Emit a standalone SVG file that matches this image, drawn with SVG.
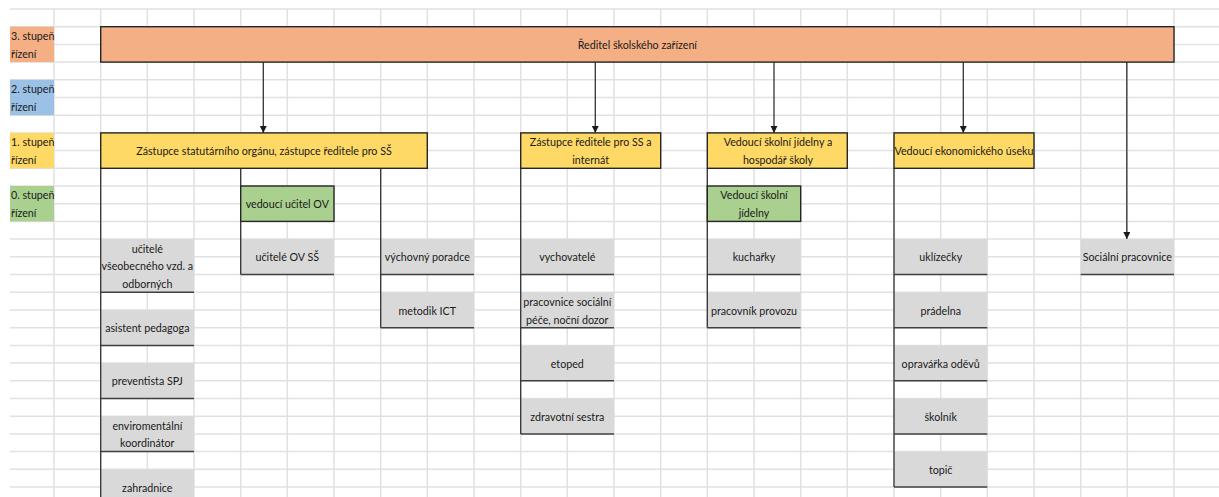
<svg xmlns="http://www.w3.org/2000/svg" width="1219" height="497" viewBox="0 0 1219 497">
<style>
text{font-family:Lato,"Liberation Sans",sans-serif;font-size:10.7px;fill:#1a1a1a}
.c{text-anchor:middle}
.grid{stroke:#e1e1e1;stroke-width:1.5;fill:none}
.box{stroke:#262626;stroke-width:1.4}
.or{fill:#f4b084}.bl{fill:#9bc2e6}.ye{fill:#ffd966}.gr{fill:#a9d08e}.gy{fill:#d9d9d9}
.bot{stroke:#404040;stroke-width:1.5}
.con{stroke:#333;stroke-width:1.3;fill:none}
</style>
<defs>
<marker id="arr" markerUnits="userSpaceOnUse" markerWidth="8" markerHeight="8" refX="7" refY="3.5" orient="auto"><path d="M0,0 L7,3.5 L0,7 z" fill="#1a1a1a"/></marker>
</defs>
<rect x="0" y="0" width="1219" height="497" fill="#ffffff"/>
<g id="grid" class="grid">
<path d="M10,9H1219M10,26.7H1219M10,44.4H1219M10,62.1H1219M10,79.8H1219M10,97.5H1219M10,115.2H1219M10,132.9H1219M10,150.6H1219M10,168.3H1219M10,186H1219M10,203.7H1219M10,221.4H1219M10,239.1H1219M10,256.8H1219M10,274.6H1219M10,292.3H1219M10,310H1219M10,327.7H1219M10,345.4H1219M10,363.1H1219M10,380.8H1219M10,398.5H1219M10,416.2H1219M10,433.9H1219M10,451.6H1219M10,469.3H1219M10,487H1219"/>
<path d="M54,9V497M100.7,9V497M147.3,9V497M194,9V497M240.7,9V497M287.3,9V497M334,9V497M380.7,9V497M427.3,9V497M474,9V497M520.7,9V497M567.3,9V497M614,9V497M660.7,9V497M707.3,9V497M754,9V497M800.7,9V497M847.3,9V497M894,9V497M940.7,9V497M987.3,9V497M1034,9V497M1080.7,9V497M1127.3,9V497M1174,9V497"/>
</g>
<g id="legend">
<g id="lvl3"><rect x="10" y="26.7" width="44" height="35.4" class="or"/><text x="11" y="40">3. stupeň</text><text x="11" y="57.7">řízení</text></g>
<g id="lvl2"><rect x="10" y="79.8" width="44" height="35.4" class="bl"/><text x="11" y="93.2">2. stupeň</text><text x="11" y="110.9">řízení</text></g>
<g id="lvl1"><rect x="10" y="132.9" width="44" height="35.4" class="ye"/><text x="11" y="146.3">1. stupeň</text><text x="11" y="164">řízení</text></g>
<g id="lvl0"><rect x="10" y="186" width="44" height="35.4" class="gr"/><text x="11" y="199.4">0. stupeň</text><text x="11" y="217.1">řízení</text></g>
</g>
<g id="gray-boxes">
<g id="n-ucitele"><rect x="100.7" y="239.1" width="93.3" height="53.2" class="gy"/><line x1="100.7" y1="292.3" x2="194" y2="292.3" class="bot"/><text class="c" x="147.3" y="252.5">učitelé</text><text class="c" x="147.3" y="270.2">všeobecného vzd. a</text><text class="c" x="147.3" y="287.9">odborných</text></g>
<g id="n-asistent"><rect x="100.7" y="310" width="93.3" height="35.4" class="gy"/><line x1="100.7" y1="345.4" x2="194" y2="345.4" class="bot"/><text class="c" x="147.3" y="332.2">asistent pedagoga</text></g>
<g id="n-preventista"><rect x="100.7" y="363.1" width="93.3" height="35.4" class="gy"/><line x1="100.7" y1="398.5" x2="194" y2="398.5" class="bot"/><text class="c" x="147.3" y="385.3">preventista SPJ</text></g>
<g id="n-enviro"><rect x="100.7" y="416.2" width="93.3" height="35.4" class="gy"/><line x1="100.7" y1="451.6" x2="194" y2="451.6" class="bot"/><text class="c" x="147.3" y="429.6">enviromentální</text><text class="c" x="147.3" y="447.3">koordinátor</text></g>
<g id="n-zahradnice"><rect x="100.7" y="469.3" width="93.3" height="30" class="gy"/><text class="c" x="147.3" y="491.5">zahradnice</text></g>
<g id="n-ucitele-ov"><rect x="240.7" y="239.1" width="93.3" height="35.5" class="gy"/><line x1="240.7" y1="274.6" x2="334" y2="274.6" class="bot"/><text class="c" x="287.3" y="261.3">učitelé OV SŠ</text></g>
<g id="n-poradce"><rect x="380.7" y="239.1" width="93.3" height="35.5" class="gy"/><line x1="380.7" y1="274.6" x2="474" y2="274.6" class="bot"/><text class="c" x="427.3" y="261.3">výchovný poradce</text></g>
<g id="n-metodik"><rect x="380.7" y="292.3" width="93.3" height="35.4" class="gy"/><line x1="380.7" y1="327.7" x2="474" y2="327.7" class="bot"/><text class="c" x="427.3" y="314.5">metodik ICT</text></g>
<g id="n-vychovatele"><rect x="520.7" y="239.1" width="93.3" height="35.5" class="gy"/><line x1="520.7" y1="274.6" x2="614" y2="274.6" class="bot"/><text class="c" x="567.3" y="261.3">vychovatelé</text></g>
<g id="n-pracovnice"><rect x="520.7" y="292.3" width="93.3" height="35.4" class="gy"/><line x1="520.7" y1="327.7" x2="614" y2="327.7" class="bot"/><text class="c" x="567.3" y="305.8">pracovnice sociální</text><text class="c" x="567.3" y="323.5">péče, noční dozor</text></g>
<g id="n-etoped"><rect x="520.7" y="345.4" width="93.3" height="35.4" class="gy"/><line x1="520.7" y1="380.8" x2="614" y2="380.8" class="bot"/><text class="c" x="567.3" y="367.6">etoped</text></g>
<g id="n-sestra"><rect x="520.7" y="398.5" width="93.3" height="35.4" class="gy"/><line x1="520.7" y1="433.9" x2="614" y2="433.9" class="bot"/><text class="c" x="567.3" y="420.7">zdravotní sestra</text></g>
<g id="n-kucharky"><rect x="707.3" y="239.1" width="93.4" height="35.5" class="gy"/><line x1="707.3" y1="274.6" x2="800.7" y2="274.6" class="bot"/><text class="c" x="754" y="261.3">kuchařky</text></g>
<g id="n-provoz"><rect x="707.3" y="292.3" width="93.4" height="35.4" class="gy"/><line x1="707.3" y1="327.7" x2="800.7" y2="327.7" class="bot"/><text class="c" x="754" y="314.5">pracovník provozu</text></g>
<g id="n-uklizecky"><rect x="894" y="239.1" width="93.3" height="35.5" class="gy"/><line x1="894" y1="274.6" x2="987.3" y2="274.6" class="bot"/><text class="c" x="940.7" y="261.3">uklízečky</text></g>
<g id="n-pradelna"><rect x="894" y="292.3" width="93.3" height="35.4" class="gy"/><line x1="894" y1="327.7" x2="987.3" y2="327.7" class="bot"/><text class="c" x="940.7" y="314.5">prádelna</text></g>
<g id="n-opravarka"><rect x="894" y="345.4" width="93.3" height="35.4" class="gy"/><line x1="894" y1="380.8" x2="987.3" y2="380.8" class="bot"/><text class="c" x="940.7" y="367.6">opravářka oděvů</text></g>
<g id="n-skolnik"><rect x="894" y="398.5" width="93.3" height="35.4" class="gy"/><line x1="894" y1="433.9" x2="987.3" y2="433.9" class="bot"/><text class="c" x="940.7" y="420.7">školník</text></g>
<g id="n-topic"><rect x="894" y="451.6" width="93.3" height="35.4" class="gy"/><line x1="894" y1="487" x2="987.3" y2="487" class="bot"/><text class="c" x="940.7" y="473.8">topič</text></g>
<g id="n-socialni"><rect x="1080.7" y="239.1" width="93.3" height="35.5" class="gy"/><line x1="1080.7" y1="274.6" x2="1174" y2="274.6" class="bot"/><text class="c" x="1127.3" y="261.3">Sociální pracovnice</text></g>
</g>
<g id="connectors" class="con">
<line x1="263.3" y1="62.1" x2="263.3" y2="132.9" marker-end="url(#arr)"/>
<line x1="595.3" y1="62.1" x2="595.3" y2="132.9" marker-end="url(#arr)"/>
<line x1="774" y1="62.1" x2="774" y2="132.9" marker-end="url(#arr)"/>
<line x1="963.3" y1="62.1" x2="963.3" y2="132.9" marker-end="url(#arr)"/>
<line x1="1126.8" y1="62.1" x2="1126.8" y2="239.1" marker-end="url(#arr)"/>
<line x1="100.7" y1="168.3" x2="100.7" y2="497"/>
<line x1="240.7" y1="168.3" x2="240.7" y2="274.6"/>
<line x1="380.7" y1="168.3" x2="380.7" y2="327.7"/>
<line x1="520.7" y1="168.3" x2="520.7" y2="433.9"/>
<line x1="707.3" y1="168.3" x2="707.3" y2="327.7"/>
<line x1="894" y1="168.3" x2="894" y2="487"/>
</g>
<g id="n-reditel"><rect x="100.7" y="26.7" width="1073.3" height="35.4" class="or box"/><text class="c" x="637.3" y="48.5">Ředitel školského zařízení</text></g>
<g id="n-zastupce-ss"><rect x="100.7" y="132.9" width="326.6" height="35.4" class="ye box"/><text class="c" x="264" y="155">Zástupce statutárního orgánu, zástupce ředitele pro SŠ</text></g>
<g id="n-zastupce-internat"><rect x="520.7" y="132.9" width="140" height="35.4" class="ye box"/><text class="c" x="590.7" y="146.3">Zástupce ředitele pro SS a</text><text class="c" x="590.7" y="164">internát</text></g>
<g id="n-jidelna-hospodar"><rect x="707.3" y="132.9" width="140" height="35.4" class="ye box"/><text class="c" x="778" y="146.3">Vedoucí školní jídelny a</text><text class="c" x="778" y="164">hospodář školy</text></g>
<g id="n-ekonom"><rect x="894" y="132.9" width="140" height="35.4" class="ye box"/><text class="c" x="964" y="155">Vedoucí ekonomického úseku</text></g>
<g id="n-vedouci-ov"><rect x="240.7" y="186" width="93.3" height="35.4" class="gr box"/><text class="c" x="287.3" y="208.2">vedoucí učitel OV</text></g>
<g id="n-vedouci-jidelny"><rect x="707.3" y="186" width="93.4" height="35.4" class="gr box"/><text class="c" x="754" y="199.4">Vedoucí školní</text><text class="c" x="754" y="217.1">jídelny</text></g>
</svg>
